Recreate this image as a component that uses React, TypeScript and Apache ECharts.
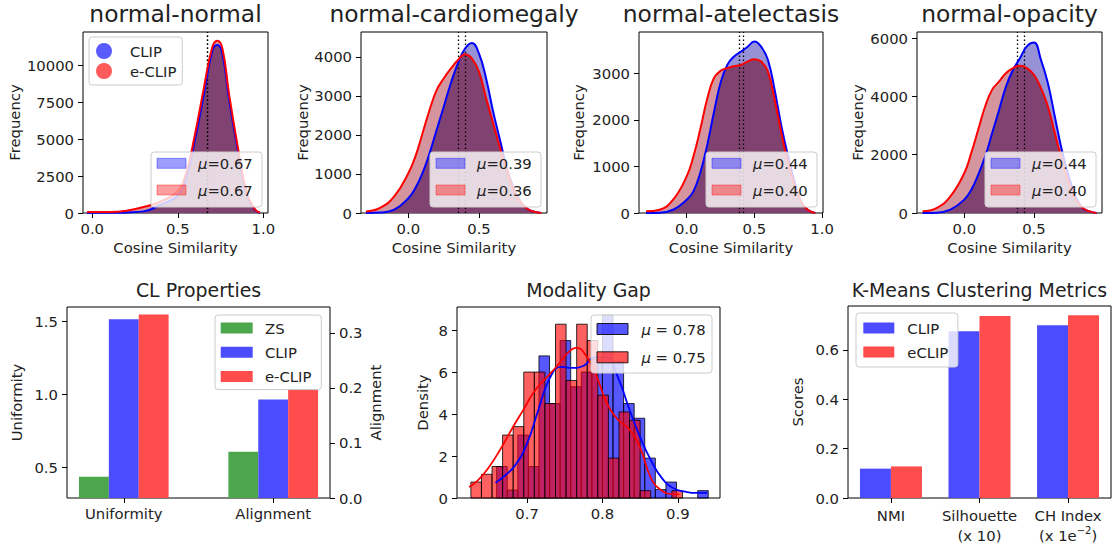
import React, { useEffect, useRef } from 'react';
import * as echarts from 'echarts';

const FONT = 'DejaVu Sans';
const INK = '#222222';
const FS = 14.8;

// ---------- Top row: cosine-similarity distributions ----------
const panelTitles = ['normal-normal', 'normal-cardiomegaly', 'normal-atelectasis', 'normal-opacity'];

const nnX = [-0.03, 0.0, 0.1, 0.2, 0.3, 0.4, 0.5, 0.55, 0.6, 0.65, 0.7, 0.73, 0.76, 0.8, 0.85, 0.9, 0.95, 0.98];
const nnClip = [0, 10, 20, 40, 110, 560, 1200, 2450, 4950, 7870, 10900, 11350, 10800, 7640, 4270, 1350, 225, 0];
const nnEClip = [60, 60, 60, 150, 400, 790, 1500, 2750, 5300, 8300, 11150, 11640, 11150, 8000, 4500, 1500, 250, 30];

const cmX = [-0.3, -0.2, -0.1, 0.0, 0.05, 0.1, 0.15, 0.2, 0.25, 0.3, 0.35, 0.4, 0.45, 0.5, 0.55, 0.6, 0.65, 0.7, 0.75, 0.8, 0.85, 0.9, 0.94];
const cmClip = [0, 10, 85, 380, 640, 1020, 1530, 2130, 2720, 3320, 3830, 4210, 4360, 4085, 3450, 2600, 1850, 1100, 600, 255, 85, 25, 0];
const cmEClip = [40, 130, 425, 1020, 1450, 2040, 2640, 3150, 3450, 3700, 3915, 4070, 3960, 3620, 2950, 2300, 1650, 1060, 550, 255, 85, 25, 0];

const atX = [-0.3, -0.2, -0.1, 0.0, 0.05, 0.1, 0.15, 0.2, 0.25, 0.3, 0.35, 0.4, 0.45, 0.5, 0.55, 0.6, 0.65, 0.7, 0.75, 0.8, 0.85, 0.9, 0.95];
const atClip = [0, 5, 70, 285, 465, 860, 1430, 2140, 2790, 3180, 3360, 3460, 3570, 3680, 3570, 3290, 2640, 1860, 1210, 640, 215, 57, 0];
const atEClip = [35, 70, 285, 785, 1215, 1790, 2430, 2890, 3050, 3110, 3150, 3180, 3250, 3300, 3250, 3035, 2430, 1710, 1070, 570, 215, 57, 0];

const opX = [-0.3, -0.2, -0.1, 0.0, 0.05, 0.1, 0.15, 0.2, 0.25, 0.3, 0.35, 0.4, 0.45, 0.5, 0.55, 0.6, 0.65, 0.7, 0.75, 0.8, 0.85, 0.9, 0.95];
const opClip = [0, 10, 115, 460, 800, 1315, 1940, 2740, 3540, 4340, 4910, 5310, 5720, 5850, 5260, 4460, 3310, 2170, 1260, 570, 170, 57, 0];
const opEClip = [57, 170, 570, 1370, 2060, 2860, 3660, 4230, 4510, 4800, 4970, 5050, 4970, 4740, 4290, 3660, 2740, 1830, 1030, 460, 170, 57, 0];

const meanLabels = [['0.67', '0.67'], ['0.39', '0.36'], ['0.44', '0.40'], ['0.44', '0.40']];
const meanLines = [[0.672, 0.672], [0.396, 0.354], [0.424, 0.394], [0.428, 0.383]];
const topYTicks = [[0, 2500, 5000, 7500, 10000], [0, 1000, 2000, 3000, 4000], [0, 1000, 2000, 3000], [0, 2000, 4000, 6000]];
const topXTicks = [0, 0.5, 1.0];

// ---------- CL Properties ----------
const clCategories = ['Uniformity', 'Alignment'];
const clMethods = ['ZS', 'CLIP', 'e-CLIP'];
const clUniformity = [0.435, 1.517, 1.55];
const clAlignment = [0.084, 0.179, 0.198];
const clLeftTicks = [0.5, 1.0, 1.5];
const clRightTicks = [0, 0.1, 0.2, 0.3];

// ---------- Modality Gap ----------
const mgBinWidth = 0.01404;
const mgClipStart = 0.6596;
const mgEClipStart = 0.6254;
const mgClipHist = [1.5, 0.38, 3.0, 1.5, 6.77, 4.5, 7.5, 5.3, 6.0, 6.6, 8.7, 6.5, 4.5, 3.8, 1.9, 0.4, 0.76, 0, 0, 0.35];
const mgEClipHist = [0.76, 1.13, 1.5, 3.0, 3.4, 6.0, 6.0, 4.5, 8.28, 5.6, 8.28, 7.5, 4.9, 1.9, 4.1, 3.7, 0.35, 0, 0, 0.35];
const mgClipKdeX = [0.658, 0.67, 0.685, 0.7, 0.715, 0.73, 0.745, 0.76, 0.775, 0.79, 0.805, 0.82, 0.835, 0.85, 0.865, 0.88, 0.895, 0.91, 0.925, 0.939];
const mgClipKde = [0.73, 1.05, 1.6, 2.6, 4.2, 5.7, 6.25, 6.2, 6.3, 6.7, 6.7, 5.8, 4.3, 2.9, 1.75, 0.9, 0.45, 0.3, 0.24, 0.24];
const mgEClipKdeX = [0.623, 0.635, 0.65, 0.665, 0.68, 0.695, 0.71, 0.725, 0.74, 0.755, 0.765, 0.775, 0.79, 0.805, 0.82, 0.835, 0.85, 0.865, 0.88, 0.89, 0.902];
const mgEClipKde = [0.52, 0.85, 1.5, 2.35, 3.3, 4.2, 5.1, 5.7, 6.3, 6.95, 7.15, 6.95, 6.0, 4.6, 3.75, 3.3, 2.4, 0.9, 0.32, 0.2, 0.17];
const mgMeans = ['0.78', '0.75'];
const mgXTicks = [0.7, 0.8, 0.9];
const mgYTicks = [0, 2, 4, 6, 8];

// ---------- K-Means ----------
const kmCategories = ['NMI', 'Silhouette\n(x 10)', 'CH Index\n(x 1e{sup|\u22122})'];
const kmClip = [0.119, 0.676, 0.7];
const kmEClip = [0.128, 0.737, 0.741];
const kmYTicks = [0, 0.2, 0.4, 0.6];

// ---------- styling ----------
const C_BLUE = '#0000ff';
const C_RED = '#ff0000';
const FILL_BLUE_ONLY = '#9791d6';
const FILL_RED_ONLY = '#d5959e';
const FILL_BOTH = '#804270';
const BAR_GREEN = '#4ca64c';
const BAR_BLUE = '#4c4cff';
const BAR_RED = '#ff4c4c';

const topGrids = [
  { left: 83, width: 185 },
  { left: 361, width: 186 },
  { left: 639, width: 184 },
  { left: 917, width: 185 },
];
const TOP_Y = 32;
const TOP_H = 181;
const topXRange = [[-0.054, 1.027], [-0.335, 0.981], [-0.352, 1.007], [-0.34, 0.989]];
const topYMax = [12230, 4641, 3885, 6206];
const topYNameGap = [61, 51, 53, 52];

const txt = (size: number) => ({ fontFamily: FONT, fontSize: size, color: INK });

const makeBarRender = (fill: string, stroke?: string) => (params: any, api: any) => {
  const x = api.value(0);
  const v = api.value(1);
  const w = api.value(2);
  const tl = api.coord([x - w / 2, v]);
  const br = api.coord([x + w / 2, 0]);
  const cs = params.coordSys;
  const top = Math.max(tl[1], cs.y);
  const bottom = Math.min(br[1], cs.y + cs.height);
  return {
    type: 'rect',
    shape: { x: tl[0], y: top, width: br[0] - tl[0], height: Math.max(0, bottom - top) },
    style: { fill, stroke: stroke || 'none', lineWidth: stroke ? 1 : 0 },
  };
};

function buildOption() {
  const panels = [
    [nnX, nnClip, nnEClip],
    [cmX, cmClip, cmEClip],
    [atX, atClip, atEClip],
    [opX, opClip, opEClip],
  ];

  const grid: any[] = [];
  const xAxis: any[] = [];
  const yAxis: any[] = [];
  const series: any[] = [];
  const graphic: any[] = [];

  const tickStyle = { show: true, length: 5, lineStyle: { color: '#000', width: 1 } };
  const noLine = { show: false, onZero: false };

  panels.forEach((p, i) => {
    const [xs, blue, red] = p as number[][];
    grid.push({
      left: topGrids[i].left, top: TOP_Y, width: topGrids[i].width, height: TOP_H,
      show: true, borderColor: '#000', borderWidth: 1, backgroundColor: 'transparent',
      containLabel: false, outerBoundsMode: 'none',
    });
    xAxis.push({
      type: 'value', gridIndex: i, min: topXRange[i][0], max: topXRange[i][1],
      axisLine: noLine, splitLine: { show: false },
      axisTick: { ...tickStyle, customValues: topXTicks },
      axisLabel: { customValues: topXTicks, formatter: (v: number) => v.toFixed(1), margin: 8, ...txt(FS) },
      name: 'Cosine Similarity', nameLocation: 'middle', nameGap: 27, nameTextStyle: txt(FS),
    });
    yAxis.push({
      type: 'value', gridIndex: i, min: 0, max: topYMax[i],
      axisLine: noLine, splitLine: { show: false },
      axisTick: { ...tickStyle, customValues: topYTicks[i] },
      axisLabel: { customValues: topYTicks[i], formatter: (v: number) => String(v), margin: 9, ...txt(FS) },
      name: 'Frequency', nameLocation: 'middle', nameRotate: 90, nameGap: topYNameGap[i], nameTextStyle: txt(FS),
    });
    const common = {
      type: 'line', xAxisIndex: i, yAxisIndex: i, smooth: 0.45,
      showSymbol: false, symbol: 'none', silent: true, animation: false,
    };
    series.push({ ...common, data: xs.map((x, k) => [x, blue[k]]), lineStyle: { width: 0 }, areaStyle: { color: FILL_BLUE_ONLY, opacity: 1 }, z: 1 });
    series.push({ ...common, data: xs.map((x, k) => [x, red[k]]), lineStyle: { width: 0 }, areaStyle: { color: FILL_RED_ONLY, opacity: 1 }, z: 2 });
    series.push({ ...common, data: xs.map((x, k) => [x, Math.min(blue[k], red[k])]), lineStyle: { width: 0 }, areaStyle: { color: FILL_BOTH, opacity: 1 }, z: 3 });
    const ml = (x: number) => ({
      silent: true, symbol: ['none', 'none'], label: { show: false },
      lineStyle: { type: [1.5, 2.5], color: '#000', width: 1.3 }, data: [{ xAxis: x }], animation: false,
    });
    series.push({ ...common, name: 'CLIP', data: xs.map((x, k) => [x, blue[k]]), lineStyle: { color: C_BLUE, width: 2 }, itemStyle: { color: C_BLUE }, markLine: ml(meanLines[i][0]), z: 5 });
    series.push({ ...common, name: 'e-CLIP', data: xs.map((x, k) => [x, red[k]]), lineStyle: { color: C_RED, width: 2 }, itemStyle: { color: C_RED }, markLine: ml(meanLines[i][1]), z: 6 });

    // mean legend (lower right)
    const bw = 111, bh = 55;
    const bx = topGrids[i].left + topGrids[i].width - 6 - bw;
    const by = 152;
    graphic.push({ type: 'rect', z: 100, shape: { x: bx, y: by, width: bw, height: bh, r: 3 }, style: { fill: 'rgba(255,255,255,0.8)', stroke: '#cccccc', lineWidth: 1 } });
    [[11.3, 'rgba(0,0,255,0.38)', meanLabels[i][0]], [38, 'rgba(255,0,0,0.38)', meanLabels[i][1]]].forEach(([dy, col, lab]: any) => {
      graphic.push({ type: 'rect', z: 101, shape: { x: bx + 6, y: by + dy - 5, width: 29, height: 10 }, style: { fill: col, stroke: col, lineWidth: 1 } });
      graphic.push({
        type: 'text', z: 101, x: bx + 47, y: by + dy,
        style: {
          text: '{i|\u03bc}=' + lab, fill: INK, fontFamily: FONT, fontSize: FS, verticalAlign: 'middle', align: 'left',
          rich: { i: { fontStyle: 'italic', fontFamily: FONT, fontSize: FS, fill: INK } },
        },
      });
    });
  });

  // ---- CL Properties (grid 4, xAxis 4, yAxis 4 left / 5 right)
  grid.push({ left: 67, top: 307, width: 263, height: 191, show: true, borderColor: '#000', borderWidth: 1, backgroundColor: 'transparent', outerBoundsMode: 'none' });
  xAxis.push({
    type: 'value', gridIndex: 4, min: -0.38, max: 1.38,
    axisLine: noLine, splitLine: { show: false },
    axisTick: { ...tickStyle, customValues: [0, 1] },
    axisLabel: { customValues: [0, 1], formatter: (v: number) => clCategories[Math.round(v)], margin: 8, ...txt(FS) },
  });
  yAxis.push({
    type: 'value', gridIndex: 4, position: 'left', min: 0.289, max: 1.601,
    axisLine: noLine, splitLine: { show: false },
    axisTick: { ...tickStyle, customValues: clLeftTicks },
    axisLabel: { customValues: clLeftTicks, formatter: (v: number) => v.toFixed(1), margin: 9, ...txt(FS) },
    name: 'Uniformity', nameLocation: 'middle', nameRotate: 90, nameGap: 43, nameTextStyle: txt(FS),
  });
  yAxis.push({
    type: 'value', gridIndex: 4, position: 'right', min: 0, max: 0.347,
    axisLine: noLine, splitLine: { show: false },
    axisTick: { ...tickStyle, customValues: clRightTicks },
    axisLabel: { customValues: clRightTicks, formatter: (v: number) => v.toFixed(1), margin: 9, ...txt(FS) },
    name: 'Alignment', nameLocation: 'middle', nameRotate: 90, nameGap: 38, nameTextStyle: txt(FS),
  });
  const clColors = [BAR_GREEN, BAR_BLUE, BAR_RED];
  const clBarW = 0.2;
  clMethods.forEach((m, j) => {
    series.push({
      type: 'custom', name: m, xAxisIndex: 4, yAxisIndex: 4, silent: true, itemStyle: { color: clColors[j] },
      renderItem: makeBarRender(clColors[j]), encode: { x: 0, y: 1 },
      data: [[0 + (j - 1) * clBarW, clUniformity[j], clBarW]], z: 2,
    });
    series.push({
      type: 'custom', name: m, xAxisIndex: 4, yAxisIndex: 5, silent: true, itemStyle: { color: clColors[j] },
      renderItem: makeBarRender(clColors[j]), encode: { x: 0, y: 1 },
      data: [[1 + (j - 1) * clBarW, clAlignment[j], clBarW]], z: 2,
    });
  });

  // ---- Modality Gap (grid 5, xAxis 5, yAxis 6)
  grid.push({ left: 457, top: 307, width: 263, height: 191, show: true, borderColor: '#000', borderWidth: 1, backgroundColor: 'transparent', outerBoundsMode: 'none' });
  xAxis.push({
    type: 'value', gridIndex: 5, min: 0.607, max: 0.956,
    axisLine: noLine, splitLine: { show: false },
    axisTick: { ...tickStyle, customValues: mgXTicks },
    axisLabel: { customValues: mgXTicks, formatter: (v: number) => v.toFixed(1), margin: 8, ...txt(FS) },
  });
  yAxis.push({
    type: 'value', gridIndex: 5, min: 0, max: 9.1,
    axisLine: noLine, splitLine: { show: false },
    axisTick: { ...tickStyle, customValues: mgYTicks },
    axisLabel: { customValues: mgYTicks, formatter: (v: number) => String(v), margin: 9, ...txt(FS) },
    name: 'Density', nameLocation: 'middle', nameRotate: 90, nameGap: 27, nameTextStyle: txt(FS),
  });
  const histData = (start: number, h: number[]) =>
    h.map((v, k) => [start + (k + 0.5) * mgBinWidth, v, mgBinWidth]).filter((d) => d[1] > 0);
  series.push({
    type: 'custom', name: 'mgCLIP', xAxisIndex: 5, yAxisIndex: 6, silent: true,
    renderItem: makeBarRender('rgba(0,0,255,0.66)', 'rgba(0,0,0,0.8)'), encode: { x: 0, y: 1 },
    data: histData(mgClipStart, mgClipHist), z: 2,
  });
  series.push({
    type: 'custom', name: 'mgECLIP', xAxisIndex: 5, yAxisIndex: 6, silent: true,
    renderItem: makeBarRender('rgba(255,0,0,0.62)', 'rgba(0,0,0,0.8)'), encode: { x: 0, y: 1 },
    data: histData(mgEClipStart, mgEClipHist), z: 3,
  });
  series.push({
    type: 'line', xAxisIndex: 5, yAxisIndex: 6, smooth: 0.5, showSymbol: false, symbol: 'none', silent: true,
    data: mgClipKdeX.map((x, k) => [x, mgClipKde[k]]), lineStyle: { color: C_BLUE, width: 1.8 }, z: 4,
  });
  series.push({
    type: 'line', xAxisIndex: 5, yAxisIndex: 6, smooth: 0.5, showSymbol: false, symbol: 'none', silent: true,
    data: mgEClipKdeX.map((x, k) => [x, mgEClipKde[k]]), lineStyle: { color: C_RED, width: 1.8 }, z: 5,
  });
  {
    const bx = 591, by = 315, bw = 121, bh = 58;
    graphic.push({ type: 'rect', z: 100, shape: { x: bx, y: by, width: bw, height: bh, r: 3 }, style: { fill: 'rgba(255,255,255,0.8)', stroke: '#cccccc', lineWidth: 1 } });
    [[14, 'rgba(0,0,255,0.66)', mgMeans[0]], [42.3, 'rgba(255,0,0,0.66)', mgMeans[1]]].forEach(([dy, col, lab]: any) => {
      graphic.push({ type: 'rect', z: 101, shape: { x: bx + 6, y: by + dy - 5.5, width: 31, height: 11 }, style: { fill: col, stroke: 'rgba(0,0,0,0.85)', lineWidth: 1 } });
      graphic.push({
        type: 'text', z: 101, x: bx + 50.5, y: by + dy,
        style: {
          text: '{i|\u03bc} = ' + lab, fill: INK, fontFamily: FONT, fontSize: FS, verticalAlign: 'middle', align: 'left',
          rich: { i: { fontStyle: 'italic', fontFamily: FONT, fontSize: FS, fill: INK } },
        },
      });
    });
  }

  // ---- K-Means (grid 6, xAxis 6, yAxis 7)
  grid.push({ left: 848, top: 306, width: 263, height: 192, show: true, borderColor: '#000', borderWidth: 1, backgroundColor: 'transparent', outerBoundsMode: 'none' });
  xAxis.push({
    type: 'value', gridIndex: 6, min: -0.485, max: 2.485,
    axisLine: noLine, splitLine: { show: false },
    axisTick: { ...tickStyle, customValues: [0, 1, 2] },
    axisLabel: {
      customValues: [0, 1, 2], formatter: (v: number) => kmCategories[Math.round(v)], margin: 7, lineHeight: 20, ...txt(FS),
      rich: { sup: { fontFamily: FONT, fontSize: 10, color: INK, verticalAlign: 'top', lineHeight: 12 } },
    },
  });
  yAxis.push({
    type: 'value', gridIndex: 6, min: 0, max: 0.778,
    axisLine: noLine, splitLine: { show: false },
    axisTick: { ...tickStyle, customValues: kmYTicks },
    axisLabel: { customValues: kmYTicks, formatter: (v: number) => v.toFixed(1), margin: 9, ...txt(FS) },
    name: 'Scores', nameLocation: 'middle', nameRotate: 90, nameGap: 43, nameTextStyle: txt(FS),
  });
  const kmBarW = 0.35;
  series.push({
    type: 'custom', name: 'CLIP', xAxisIndex: 6, yAxisIndex: 7, silent: true, itemStyle: { color: BAR_BLUE },
    renderItem: makeBarRender(BAR_BLUE), encode: { x: 0, y: 1 },
    data: kmClip.map((v, i) => [i - kmBarW / 2, v, kmBarW]), z: 2,
  });
  series.push({
    type: 'custom', name: 'eCLIP', xAxisIndex: 6, yAxisIndex: 7, silent: true, itemStyle: { color: BAR_RED },
    renderItem: makeBarRender(BAR_RED), encode: { x: 0, y: 1 },
    data: kmEClip.map((v, i) => [i + kmBarW / 2, v, kmBarW]), z: 2,
  });

  const legendBase = {
    orient: 'vertical', selectedMode: false, backgroundColor: 'rgba(255,255,255,0.8)',
    borderColor: '#cccccc', borderWidth: 1, borderRadius: 3, z: 50,
  };

  const legend = [
    {
      ...legendBase, left: 89, top: 37, padding: [5.5, 6, 5.5, 7], itemWidth: 32, itemHeight: 16, itemGap: 3,
      textStyle: { ...txt(FS), lineHeight: 17, padding: [0, 0, 0, 5] },
      data: [
        { name: 'CLIP', icon: 'circle', itemStyle: { color: '#5a5aff', borderWidth: 0 } },
        { name: 'e-CLIP', icon: 'circle', itemStyle: { color: '#ff5a5a', borderWidth: 0 } },
      ],
    },
    {
      ...legendBase, left: 215, top: 315, padding: [4.5, 10, 4.5, 5.7], itemWidth: 32, itemHeight: 11, itemGap: 7.3,
      textStyle: { ...txt(FS), lineHeight: 17, padding: [0, 0, 0, 7.3] },
      data: clMethods.map((m, j) => ({ name: m, icon: 'rect', itemStyle: { color: clColors[j], borderWidth: 0 } })),
    },
    {
      ...legendBase, left: 856, top: 313, padding: [6.5, 9.6, 6.5, 7.3], itemWidth: 31, itemHeight: 11, itemGap: 7,
      textStyle: { ...txt(FS), lineHeight: 17, padding: [0, 0, 0, 8] },
      data: [
        { name: 'CLIP', icon: 'rect', itemStyle: { color: BAR_BLUE, borderWidth: 0 } },
        { name: 'eCLIP', icon: 'rect', itemStyle: { color: BAR_RED, borderWidth: 0 } },
      ],
    },
  ];

  const subTitle = { fontFamily: FONT, fontSize: 18.9, fontWeight: 'normal', color: INK };
  const title = [
    ...panelTitles.map((t, i) => ({
      text: t, left: topGrids[i].left + topGrids[i].width / 2, top: 2, textAlign: 'center', padding: 0,
      textStyle: { fontFamily: FONT, fontSize: 23.4, fontWeight: 'normal', color: INK },
    })),
    { text: 'CL Properties', left: 198.5, top: 280.5, textAlign: 'center', padding: 0, textStyle: subTitle },
    { text: 'Modality Gap', left: 588.5, top: 280.5, textAlign: 'center', padding: 0, textStyle: subTitle },
    { text: 'K-Means Clustering Metrics', left: 979.5, top: 280, textAlign: 'center', padding: 0, textStyle: subTitle },
  ];

  return {
    animation: false,
    backgroundColor: '#ffffff',
    textStyle: { fontFamily: FONT },
    title, legend, grid, xAxis, yAxis, series, graphic,
  };
}

export default function App() {
  const ref = useRef<HTMLDivElement>(null);
  useEffect(() => {
    document.body.style.margin = '0';
    if (!ref.current) return;
    const chart = echarts.init(ref.current, undefined, { renderer: 'svg' });
    chart.setOption(buildOption() as any);
    return () => chart.dispose();
  }, []);
  return <div ref={ref} style={{ width: 1114, height: 548 }} />;
}
